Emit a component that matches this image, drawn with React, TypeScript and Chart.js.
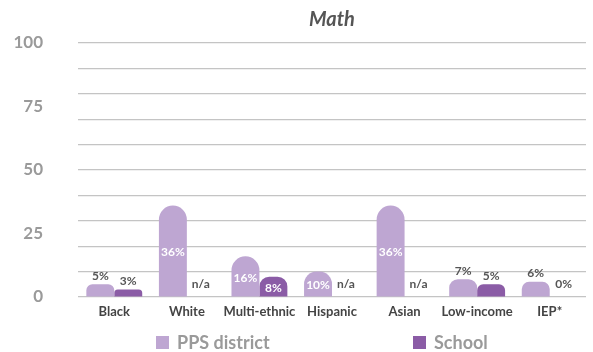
import React, { useEffect, useRef } from "react";
import { Chart, registerables } from "chart.js";

Chart.register(...registerables);

const categories = ["Black", "White", "Multi-ethnic", "Hispanic", "Asian", "Low-income", "IEP*"];
const districtValues: (number | null)[] = [5, 36, 16, 10, 36, 7, 6];
const schoolValues: (number | null)[] = [3, null, 8, null, null, 5, 0];
const seriesNames = ["PPS district", "School"];
const seriesColors = ["#bea6d2", "#8b5ca6"];
const titleText = "Math";
const FONT = "Lato, 'Open Sans', sans-serif";

const valueLabels = {
  id: "valueLabels",
  afterDatasetsDraw(chart: any) {
    const { ctx } = chart;
    const yScale = chart.scales.y;
    const base = yScale.getPixelForValue(0);
    ctx.save();
    ctx.font = `bold 12px ${FONT}`;
    ctx.textAlign = "center";
    ctx.textBaseline = "middle";
    chart.data.datasets.forEach((ds: any, di: number) => {
      const meta = chart.getDatasetMeta(di);
      meta.data.forEach((el: any, i: number) => {
        const v = ds.data[i];
        const text = v == null ? "n/a" : `${v}%`;
        const x = el.x;
        if (v != null && v >= 8) {
          const top = yScale.getPixelForValue(v);
          ctx.fillStyle = "#ffffff";
          ctx.fillText(text, x, (top + base) / 2 + 1);
        } else {
          const top = yScale.getPixelForValue(v == null ? 0 : v);
          ctx.fillStyle = "#555555";
          ctx.fillText(text, x, Math.min(top - 8.5, base - 13));
        }
      });
    });
    ctx.restore();
  },
};

const customLegend = {
  id: "customLegend",
  afterDraw(chart: any) {
    const { ctx } = chart;
    const boxX = [156, 413];
    const boxY = 336;
    const size = 13;
    ctx.save();
    ctx.font = `bold 18px ${FONT}`;
    ctx.textAlign = "left";
    ctx.textBaseline = "middle";
    chart.data.datasets.forEach((ds: any, i: number) => {
      ctx.fillStyle = ds.backgroundColor;
      ctx.fillRect(boxX[i], boxY, size, size);
      ctx.fillStyle = "#9a9a9a";
      ctx.fillText(ds.label, boxX[i] + size + 8, boxY + size / 2 + 0.5);
    });
    ctx.restore();
  },
};

export default function App() {
  const ref = useRef<HTMLCanvasElement>(null);
  useEffect(() => {
    document.body.style.margin = "0";
    if (!ref.current) return;
    const chart = new Chart(ref.current, {
      type: "bar",
      data: {
        labels: categories,
        datasets: [
          {
            label: seriesNames[0],
            data: districtValues,
            backgroundColor: seriesColors[0],
            borderRadius: { topLeft: 14, topRight: 14, bottomLeft: 0, bottomRight: 0 },
            borderSkipped: "bottom",
          },
          {
            label: seriesNames[1],
            data: schoolValues,
            backgroundColor: seriesColors[1],
            borderRadius: { topLeft: 14, topRight: 14, bottomLeft: 0, bottomRight: 0 },
            borderSkipped: "bottom",
          },
        ] as any,
      },
      options: {
        responsive: false,
        maintainAspectRatio: false,
        animation: false,
        layout: { padding: { left: 0, right: 7, top: 0, bottom: 25.6 } },
        datasets: { bar: { barPercentage: 1, categoryPercentage: 0.77 } },
        plugins: {
          legend: { display: false },
          tooltip: { enabled: false },
          title: {
            display: true,
            text: titleText,
            fullSize: false,
            color: "#555555",
            font: { family: FONT, size: 20, weight: "bold", style: "italic" },
            padding: { top: 8, bottom: 11 },
          },
        },
        scales: {
          x: {
            grid: { display: false, drawTicks: false },
            border: { display: false },
            ticks: {
              color: "#444444",
              padding: 6.9,
              font: { family: FONT, size: 13, weight: "bold" },
              maxRotation: 0,
              autoSkip: false,
            },
          },
          y: {
            min: 0,
            max: 100,
            afterFit(scale: any) {
              scale.width = 78;
              scale.paddingTop = 0;
              scale.paddingBottom = 0;
            },
            border: { display: false },
            grid: {
              drawTicks: false,
              lineWidth: 1.2,
              color: (c: any) => (c.tick && c.tick.value % 10 === 0 ? "#c4c4c4" : "rgba(0,0,0,0)"),
            },
            ticks: {
              stepSize: 5,
              autoSkip: false,
              padding: 35,
              color: "#9a9a9a",
              font: { family: FONT, size: 17, weight: "bold" },
              callback: (v: any) => (Number(v) % 25 === 0 ? String(v) : ""),
            },
          },
        },
      },
      plugins: [valueLabels, customLegend],
    });
    return () => chart.destroy();
  }, []);
  return (
    <div style={{ width: 593, height: 352 }}>
      <canvas ref={ref} width={593} height={352} style={{ display: "block" }} />
    </div>
  );
}
